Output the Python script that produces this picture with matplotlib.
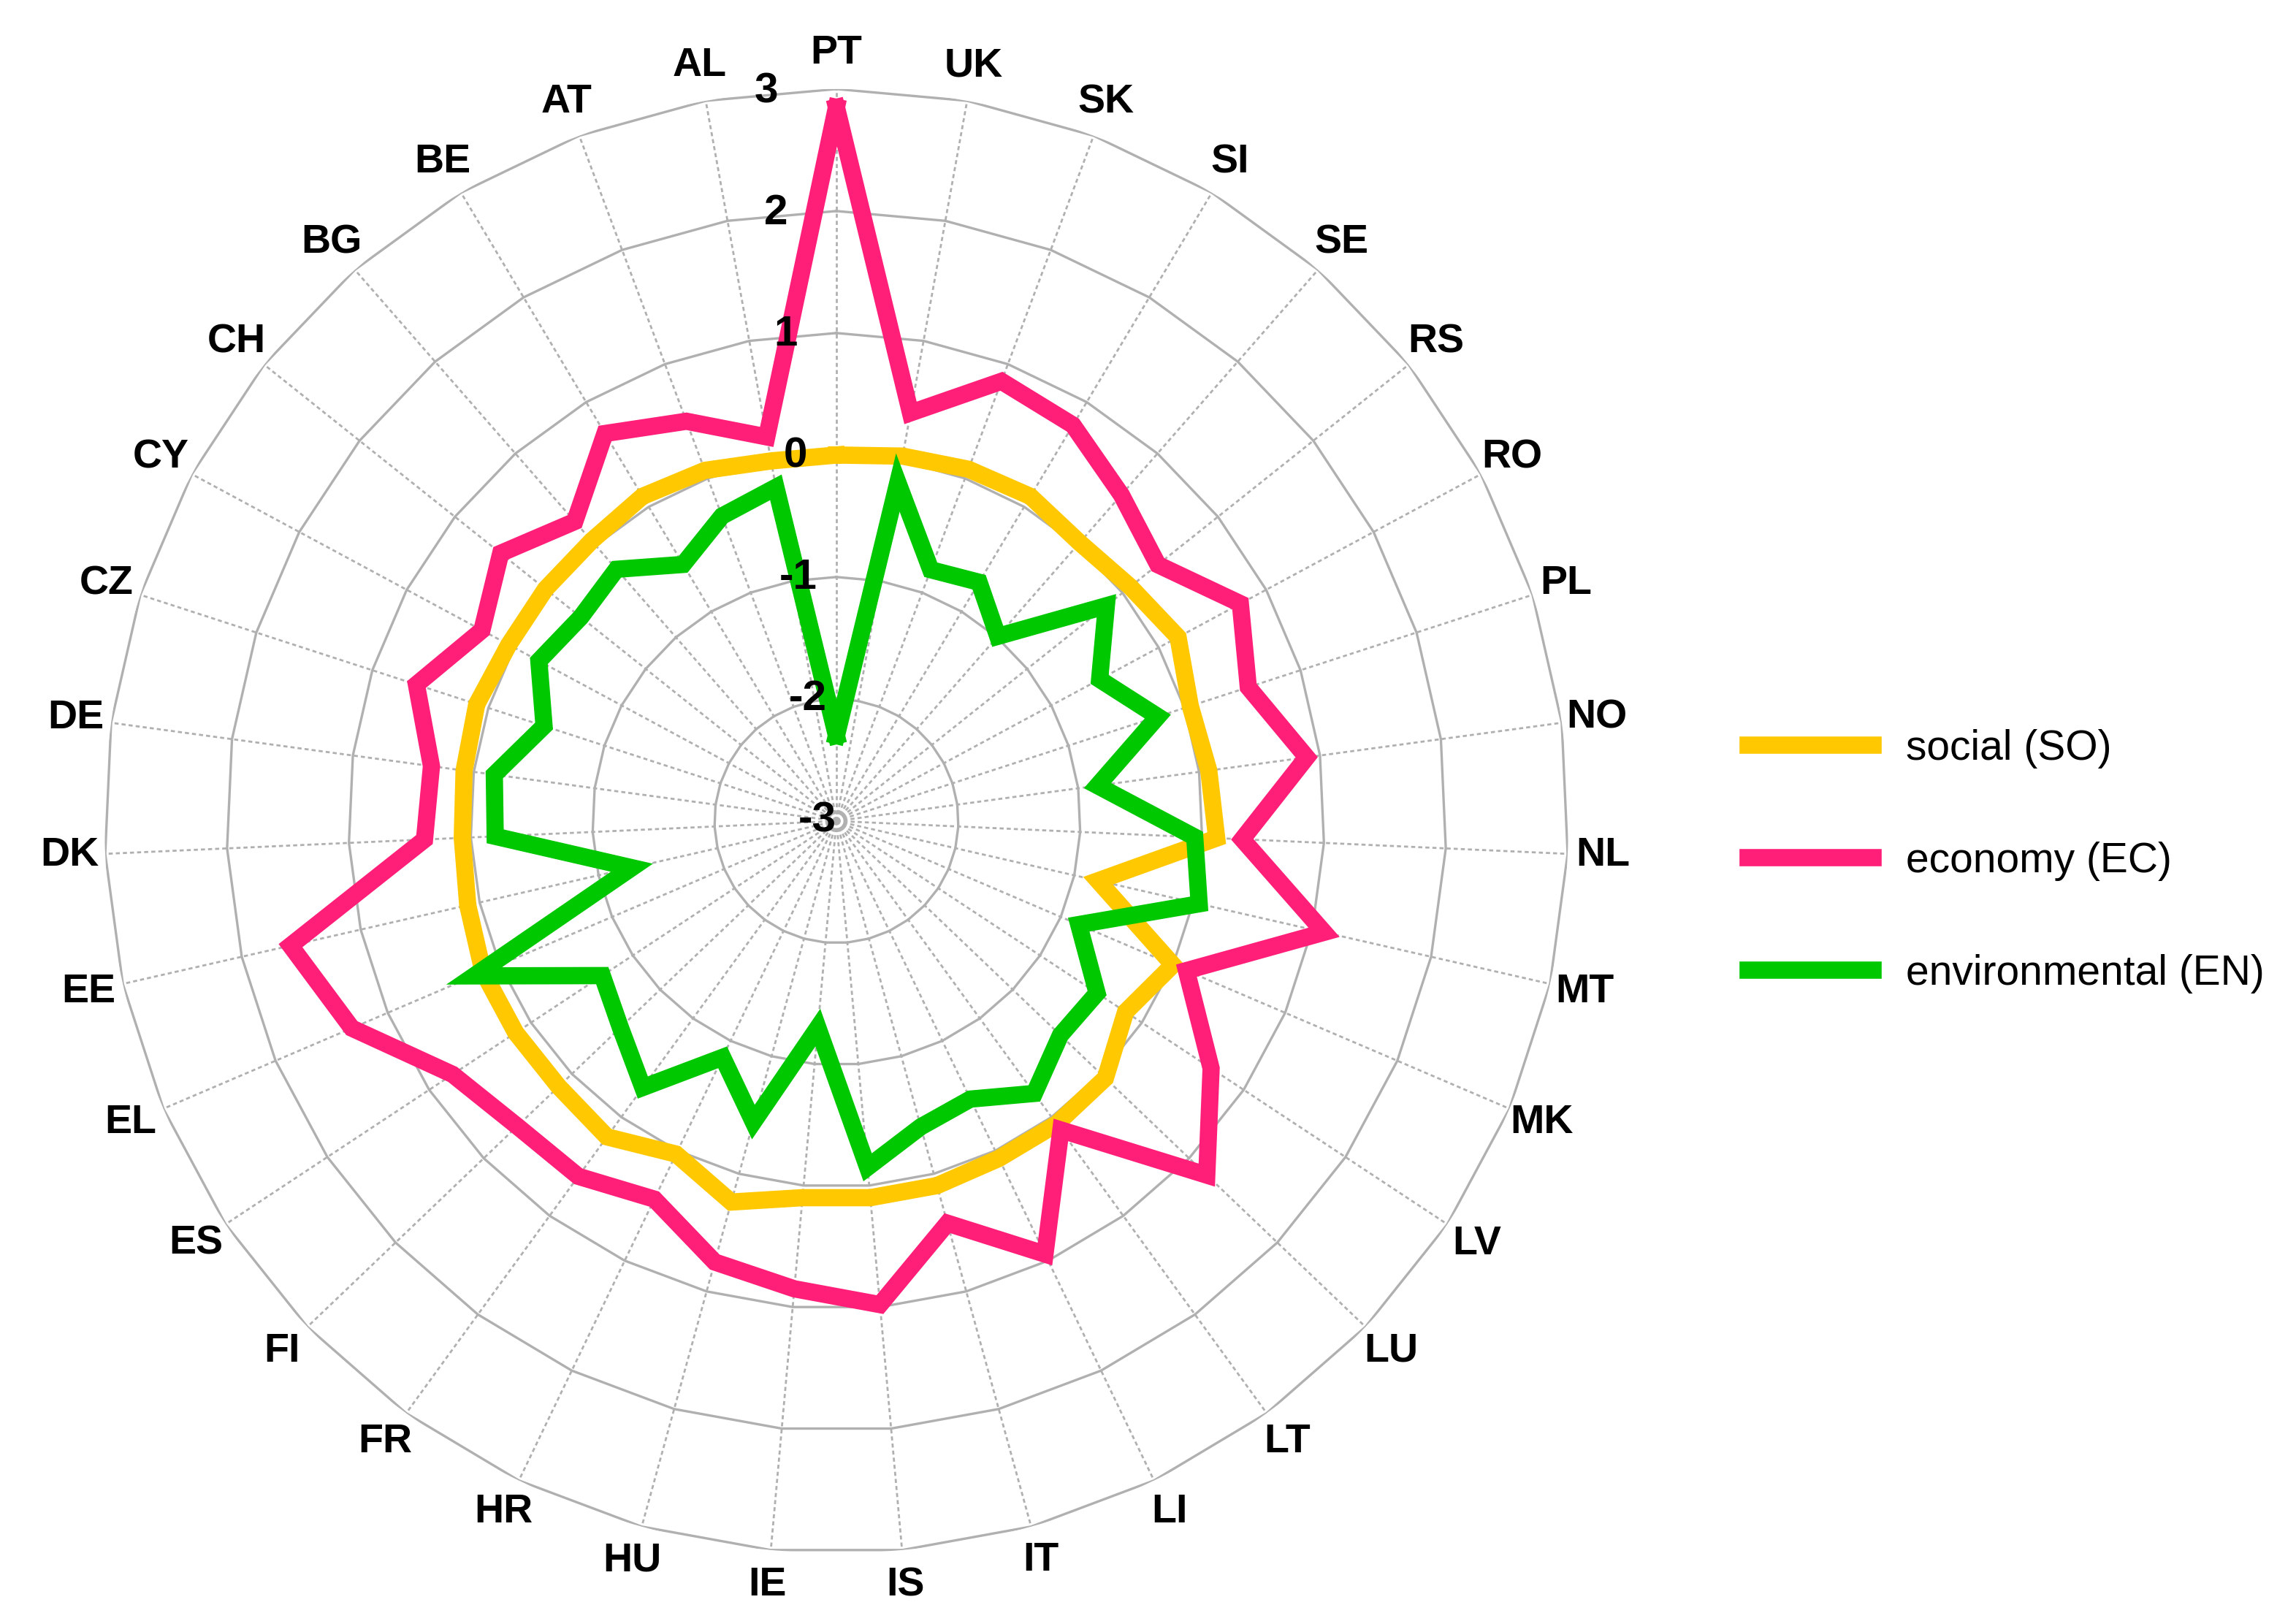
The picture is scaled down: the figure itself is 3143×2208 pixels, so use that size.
import numpy as np
import matplotlib
matplotlib.use("Agg")
import matplotlib.pyplot as plt

plt.rcParams['font.family'] = ['Liberation Sans', 'DejaVu Sans']

countries = ["PT", "UK", "SK", "SI", "SE", "RS", "RO", "PL", "NO", "NL", "MT", "MK",
             "LV", "LU", "LT", "LI", "IT", "IS", "IE", "HU", "HR", "FR", "FI", "ES",
             "EL", "EE", "DK", "DE", "CZ", "CY", "CH", "BG", "BE", "AT", "AL"]
social = [0.0, 0.04, 0.08, 0.1, 0.03, 0.08, 0.18, 0.05, 0.08, 0.12, -0.8, 0.0,
          -0.16, 0.05, 0.07, 0.07, 0.1, 0.1, 0.1, 0.24, 0.03, 0.2, 0.15, 0.15,
          0.15, 0.1, 0.07, 0.08, 0.1, 0.05, 0.05, 0.05, 0.1, 0.07, 0.0]
economy = [2.85, 0.4, 0.85, 0.78, 0.55, 0.37, 0.76, 0.55, 0.89, 0.33, 1.1, 0.12,
           0.68, 1.2, 0.13, 0.94, 0.42, 0.98, 0.85, 0.75, 0.44, 0.6, 0.62, 0.77,
           1.32, 1.59, 0.38, 0.35, 0.62, 0.3, 0.52, 0.26, 0.7, 0.5, 0.2]
environmental = [-2.3, -0.18, -0.8, -0.72, -0.99, -0.17, -0.55, -0.23, -0.84, -0.06, 0.05, -0.84,
                 -0.44, -0.46, -0.24, -0.47, -0.4, -0.15, -1.3, -0.44, -0.85, -0.3, -0.55, -0.7,
                 0.23, -1.28, -0.2, -0.17, -0.48, -0.23, -0.32, -0.26, -0.55, -0.33, -0.22]
ticks = [-3, -2, -1, 0, 1, 2, 3]

n = len(countries)
theta = np.arange(n) * 2 * np.pi / n
closed = np.append(theta, theta[0])

fig = plt.figure(figsize=(15.715, 11.04), dpi=200)
ax = fig.add_axes([0.0455, 0.0372, 0.6376, 0.9076], projection="polar")
ax.set_theta_zero_location("N")
ax.set_theta_direction(-1)
ax.set_ylim(-3, 3)
ax.set_frame_on(False)
ax.grid(False)
ax.set_xticks([])
ax.set_yticks([])

# polygon rings and dotted spokes
for t in ticks[1:]:
    ax.plot(closed, [t] * (n + 1), color="#b0b0b0", lw=1.2, zorder=1)
for th in theta:
    ax.plot([th, th], [-3, 3], color="#b0b0b0", lw=1.0, ls=(0, (2, 1.5)), zorder=1)

for vals, col, lab in [(social, "#ffc800", "social (SO)"),
                       (economy, "#ff1f78", "economy (EC)"),
                       (environmental, "#00c800", "environmental (EN)")]:
    ax.plot(closed, np.append(vals, vals[0]), color=col, lw=8.5, label=lab,
            solid_joinstyle="miter", zorder=3)

for th, c in zip(theta, countries):
    ax.text(th, 3.29, c, ha="center", va="center", fontsize=20, fontweight="bold")
for t in ticks:
    ax.text(-0.08, t, str(t), ha="right", va="center", fontsize=21, fontweight="bold", zorder=4)

handles, labels = ax.get_legend_handles_labels()
fig.legend(handles, labels, loc="center left", bbox_to_anchor=(0.745, 0.466),
           frameon=False, fontsize=20.5, handlelength=3.0, labelspacing=1.75)

fig.savefig("out.png", dpi=200)
